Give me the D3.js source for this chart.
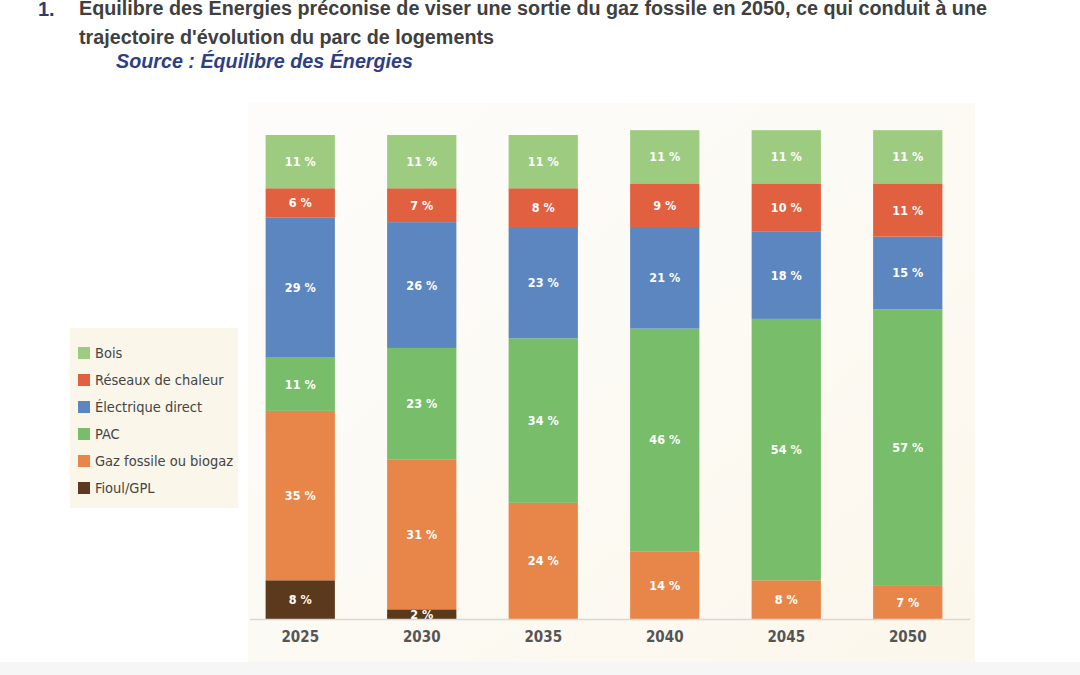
<!DOCTYPE html>
<html><head><meta charset="utf-8">
<script src="https://cdn.jsdelivr.net/npm/d3@7"></script>
<style>
html,body{margin:0;padding:0;background:#fff;}
svg{display:block;}
</style></head>
<body>
<svg id="c" width="1080" height="675"></svg>
<script>
const years = ["2025","2030","2035","2040","2045","2050"];
const seriesNames = ["Fioul/GPL","Gaz fossile ou biogaz","PAC","Électrique direct","Réseaux de chaleur","Bois"];
const fioul = [8,2,0,0,0,0];
const gaz = [35,31,24,14,8,7];
const pac = [11,23,34,46,54,57];
const elec = [29,26,23,21,18,15];
const reseaux = [6,7,8,9,10,11];
const bois = [11,11,11,11,11,11];
const colors = ["#5a391d","#e8864a","#78bd6a","#5b86bf","#e0603f","#9dcb80"];
const legendOrder = ["Bois","Réseaux de chaleur","Électrique direct","PAC","Gaz fossile ou biogaz","Fioul/GPL"];

const svg = d3.select("#c");
const cond = "'DejaVu Sans Condensed','Liberation Sans Narrow',sans-serif";

// page bottom band
svg.append("rect").attr("x",0).attr("y",662).attr("width",1080).attr("height",13).attr("fill","#f6f6f6");

// Title
svg.append("text").attr("x",38).attr("y",16).attr("font-family","Liberation Sans, Arial, sans-serif")
  .attr("font-weight","bold").attr("font-size",20).attr("fill","#2e3a78").text("1.");
const tt = svg.append("g").attr("font-family","Liberation Sans, Arial, sans-serif").attr("font-weight","bold")
  .attr("font-size",19.5).attr("fill","#404040");
tt.append("text").attr("x",79).attr("y",15).attr("textLength",908).attr("lengthAdjust","spacingAndGlyphs")
  .text("Equilibre des Energies préconise de viser une sortie du gaz fossile en 2050, ce qui conduit à une");
tt.append("text").attr("x",79).attr("y",44).attr("textLength",415).attr("lengthAdjust","spacingAndGlyphs")
  .text("trajectoire d'évolution du parc de logements");
svg.append("text").attr("x",116).attr("y",68).attr("font-family","Liberation Sans, Arial, sans-serif")
  .attr("font-weight","bold").attr("font-style","italic").attr("font-size",19.5).attr("fill","#2e3f86")
  .attr("textLength",297).attr("lengthAdjust","spacingAndGlyphs")
  .text("Source : Équilibre des Énergies");

// chart panel
const defs = svg.append("defs");
const grad = defs.append("linearGradient").attr("id","bg").attr("x1","0").attr("y1","0").attr("x2","1").attr("y2","1");
grad.append("stop").attr("offset","0").attr("stop-color","#fdfcfa");
grad.append("stop").attr("offset","0.5").attr("stop-color","#fcfaf4");
grad.append("stop").attr("offset","1").attr("stop-color","#fcf7ec");
svg.append("rect").attr("x",248).attr("y",103).attr("width",727).attr("height",559).attr("fill","url(#bg)");

// legend panel
svg.append("rect").attr("x",70).attr("y",328).attr("width",168).attr("height",180).attr("fill","#fbf6ea");

const data = years.map((y,i)=>({year:y,"Fioul/GPL":fioul[i],"Gaz fossile ou biogaz":gaz[i],"PAC":pac[i],
  "Électrique direct":elec[i],"Réseaux de chaleur":reseaux[i],"Bois":bois[i]}));
const stack = d3.stack().keys(seriesNames)(data);

const x = d3.scaleBand().domain(years).range([239.5,968.5]).paddingInner(0.43).paddingOuter(0.215);
const y = d3.scaleLinear().domain([0,100]).range([619,135]);
const color = d3.scaleOrdinal().domain(seriesNames).range(colors);

const g = svg.append("g");
stack.forEach(s=>{
  const layer = g.append("g").attr("fill",color(s.key));
  layer.selectAll("rect").data(s.filter(d=>d[1]-d[0]>0)).join("rect")
    .attr("x",d=>x(d.data.year)).attr("width",x.bandwidth())
    .attr("y",d=>y(d[1])).attr("height",d=>y(d[0])-y(d[1]));
});
stack.forEach(s=>{
  g.append("g").selectAll("text").data(s.filter(d=>d[1]-d[0]>0)).join("text")
    .attr("x",d=>x(d.data.year)+x.bandwidth()/2)
    .attr("y",d=>(y(d[0])+y(d[1]))/2)
    .attr("dy","0.36em").attr("text-anchor","middle")
    .attr("font-family",cond).attr("font-weight","bold").attr("font-size",12.5).attr("fill","#ffffff")
    .text(d=>(d[1]-d[0])+" %");
});

// axis
const ax = svg.append("g").attr("transform","translate(0,619)").call(d3.axisBottom(x).tickSize(0).tickPadding(12));
ax.select(".domain").attr("d","M250,0.5H970").attr("stroke","#d8d8d8").attr("stroke-width",1.5);
ax.selectAll("text").attr("font-family",cond).attr("font-size",15).attr("font-weight","bold").attr("fill","#555");

// legend
const lg = svg.append("g");
legendOrder.forEach((n,i)=>{
  const yy = 353 + i*27;
  lg.append("rect").attr("x",78).attr("y",yy-6).attr("width",12).attr("height",12).attr("fill",color(n));
  lg.append("text").attr("x",95).attr("y",yy).attr("dy","0.36em").attr("font-family",cond)
    .attr("font-size",14.5).attr("fill","#444").text(n);
});
</script>
</body></html>
